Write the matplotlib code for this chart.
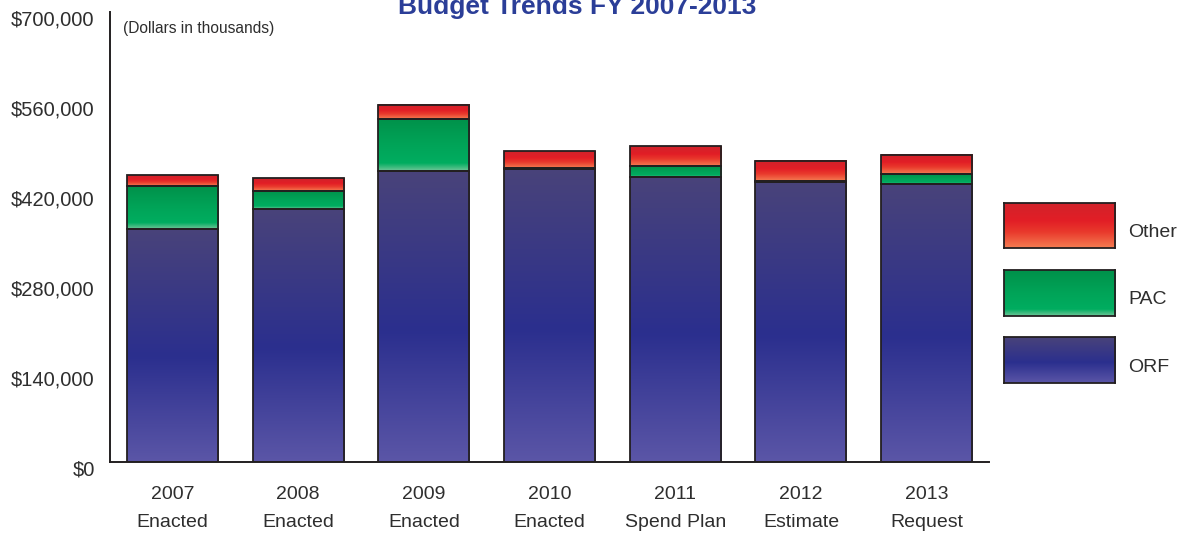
import numpy as np
import matplotlib
matplotlib.use("Agg")
import matplotlib.pyplot as plt
from matplotlib.colors import LinearSegmentedColormap
from matplotlib.transforms import ScaledTranslation

# Budget data (dollars in thousands)
years = ['2007', '2008', '2009', '2010', '2011', '2012', '2013']
stages = ['Enacted', 'Enacted', 'Enacted', 'Enacted', 'Spend Plan', 'Estimate', 'Request']
orf = [363000, 393000, 452000, 456000, 444000, 436000, 433000]
pac = [66000, 29000, 81000, 2000, 17000, 1000, 14500]
other = [17000, 20000, 22000, 26000, 30000, 31500, 30500]
yticks = [0, 140000, 280000, 420000, 560000, 700000]
ytick_labels = ['$0', '$140,000', '$280,000', '$420,000', '$560,000', '$700,000']
series_names = ['Other', 'PAC', 'ORF']

plt.rcParams['font.family'] = ['Liberation Sans', 'DejaVu Sans']
EDGE = '#231f20'
TEXT = '#2e2e2e'

# vertical gradients, listed bottom -> top
cmaps = {
    'ORF': LinearSegmentedColormap.from_list(
        'orf', [(0, '#5b56a7'), (0.45, '#2b2f8e'), (1, '#49437a')]),
    'PAC': LinearSegmentedColormap.from_list(
        'pac', [(0, '#70c698'), (0.15, '#00ad60'), (0.5, '#00a458'), (1, '#00914a')]),
    'Other': LinearSegmentedColormap.from_list(
        'oth', [(0, '#f57d52'), (0.35, '#e9392c'), (0.6, '#e21e26'), (1, '#d0232b')]),
}
grad = np.linspace(0, 1, 256).reshape(-1, 1)

W, H = 1178, 533
fig = plt.figure(figsize=(W / 100, H / 100), dpi=100)
ax = fig.add_axes([110 / W, 1 - 462 / H, 879 / W, 450 / H])

x = np.arange(len(years))
bw = 0.724
orf_a = np.array(orf)
pac_a = np.array(pac)
oth_a = np.array(other)


def gradient_bars(bars, cmap):
    for p in bars:
        x0, y0 = p.get_x(), p.get_y()
        ax.imshow(grad, extent=[x0, x0 + p.get_width(), y0, y0 + p.get_height()],
                  origin='lower', aspect='auto', cmap=cmap, zorder=1,
                  interpolation='bilinear')


b_orf = ax.bar(x, orf_a, bw, facecolor='none', edgecolor=EDGE, linewidth=1.3, zorder=2)
b_pac = ax.bar(x, pac_a, bw, bottom=orf_a, facecolor='none', edgecolor=EDGE,
               linewidth=1.3, zorder=2)
b_oth = ax.bar(x, oth_a, bw, bottom=orf_a + pac_a, facecolor='none', edgecolor=EDGE,
               linewidth=1.3, zorder=2)
gradient_bars(b_orf, cmaps['ORF'])
gradient_bars(b_pac, cmaps['PAC'])
gradient_bars(b_oth, cmaps['Other'])

ax.set_xlim(-0.497, -0.497 + 879 / 125.7)
ax.set_ylim(0, 700000)

for s in ['top', 'right']:
    ax.spines[s].set_visible(False)
for s in ['left', 'bottom']:
    ax.spines[s].set_color(EDGE)
    ax.spines[s].set_linewidth(1.4)

# year on the major ticks, budget stage on a second row of minor ticks
ax.xaxis.remove_overlapping_locs = False
ax.set_xticks(x, years)
ax.set_xticks(x, stages, minor=True)
ax.set_yticks(yticks, ytick_labels)
ax.tick_params(axis='both', which='both', length=0, colors=TEXT)
ax.tick_params(axis='x', which='major', pad=17, labelsize=14)
ax.tick_params(axis='x', which='minor', pad=37.5, labelsize=14)
ax.tick_params(axis='y', pad=11, labelsize=14.5)
for lab in ax.get_yticklabels():
    lab.set_transform(lab.get_transform() + ScaledTranslation(0, -6 / 100, fig.dpi_scale_trans))

ax.text((123 - 110) / 879, 1 - 17 / 450, '(Dollars in thousands)', transform=ax.transAxes,
        fontsize=11.2, color=TEXT, ha='left', va='center')

fig.text(577 / W, 1 - 14 / H, 'Budget Trends FY 2007-2013', ha='center', va='baseline',
         fontsize=19, fontweight='bold', color='#2b3e98')

# legend swatches
swatch_tops = [202.7, 270, 337.3]
label_centers = [232, 300, 368]
for name, top, lc in zip(series_names, swatch_tops, label_centers):
    lax = fig.add_axes([1004 / W, 1 - (top + 45.5) / H, 111 / W, 45.5 / H])
    lax.imshow(grad, origin='lower', aspect='auto', cmap=cmaps[name],
               extent=[0, 1, 0, 1], interpolation='bilinear')
    lax.set_xticks([])
    lax.set_yticks([])
    for sp in lax.spines.values():
        sp.set_color(EDGE)
        sp.set_linewidth(1.3)
    fig.text(1128 / W, 1 - lc / H, name, ha='left', va='center', fontsize=14, color=TEXT)

fig.savefig('out.png', dpi=100)
